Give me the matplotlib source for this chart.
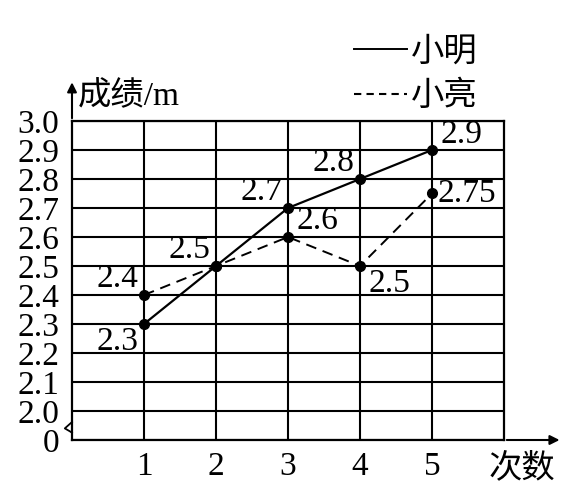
import matplotlib
matplotlib.use('Agg')
import matplotlib.pyplot as plt
from matplotlib.lines import Line2D

plt.rcParams['font.family'] = ['Liberation Serif', 'Noto Sans CJK SC']

# data
times = [1, 2, 3, 4, 5]
ming = [2.3, 2.5, 2.7, 2.8, 2.9]
liang = [2.4, 2.5, 2.6, 2.5, 2.75]
y_ticks = [1.9, 2.0, 2.1, 2.2, 2.3, 2.4, 2.5, 2.6, 2.7, 2.8, 2.9, 3.0]
y_tick_labels = ['0', '2.0', '2.1', '2.2', '2.3', '2.4', '2.5', '2.6', '2.7', '2.8', '2.9', '3.0']
x_tick_labels = ['1', '2', '3', '4', '5']

# label placement (offset in points, ha, va)
ming_lbl = [((-4, -2), 'right', 'top'), ((-4, 1), 'right', 'bottom'), ((-4, 1), 'right', 'bottom'),
            ((-4, 1), 'right', 'bottom'), ((6, 0), 'left', 'bottom')]
liang_lbl = [((-4, 1), 'right', 'bottom'), None, ((6, 1), 'left', 'bottom'),
             ((6, -2), 'left', 'top'), ((4, 0), 'left', 'center')]

fz = 24
W, H = 577, 488
fig = plt.figure(figsize=(W / 100, H / 100), dpi=100)
ax = fig.add_axes([72 / W, (H - 440) / H, 432 / W, 319 / H])

ax.plot(times, ming, color='black', linestyle='-', linewidth=1.6,
        marker='o', markersize=7, zorder=3)
ax.plot(times, liang, color='black', linestyle=(0, (5.5, 3.5)), linewidth=1.4,
        marker='o', markersize=7, zorder=3)

for i in range(len(times)):
    (dx, dy), ha, va = ming_lbl[i]
    ax.annotate(f'{ming[i]:g}', (times[i], ming[i]), xytext=(dx, dy), textcoords='offset points',
                ha=ha, va=va, fontsize=fz)
    if liang_lbl[i] is not None:
        (dx, dy), ha, va = liang_lbl[i]
        ax.annotate(f'{liang[i]:g}', (times[i], liang[i]), xytext=(dx, dy), textcoords='offset points',
                    ha=ha, va=va, fontsize=fz)

ax.set_xlim(0, 6)
ax.set_ylim(1.9, 3.0)
ax.set_xticks(times)
ax.set_xticklabels(x_tick_labels)
ax.set_yticks(y_ticks)
ax.set_yticklabels(y_tick_labels)
ax.tick_params(axis='both', length=0, labelsize=fz)
ax.tick_params(axis='y', pad=9)
ax.tick_params(axis='x', pad=8)
ax.grid(True, color='black', linewidth=1.5)
for s in ax.spines.values():
    s.set_linewidth(1.6)

# axis arrows
ax.annotate('', xy=(0, 1.13), xytext=(0, 1.0), xycoords='axes fraction',
            arrowprops=dict(arrowstyle='-|>', color='black', lw=1.5, mutation_scale=14))
ax.annotate('', xy=(1.135, 0), xytext=(1.0, 0), xycoords='axes fraction',
            arrowprops=dict(arrowstyle='-|>', color='black', lw=1.5, mutation_scale=14))

# axis break zigzag
ax.plot([0, -0.1, -0.03, 0], [1.962, 1.94, 1.93, 1.925], color='black', lw=1.3, clip_on=False)

ax.annotate('成绩/m', (0, 1), xycoords='axes fraction', xytext=(4, 6), textcoords='offset points',
            ha='left', va='bottom', fontsize=fz)
ax.annotate('次数', (1, 0), xycoords='axes fraction', xytext=(-11, -10), textcoords='offset points',
            ha='left', va='top', fontsize=fz)

handles = [Line2D([], [], color='black', lw=1.4),
           Line2D([], [], color='black', lw=1.5, linestyle=(0, (3.5, 2.5)))]
fig.legend(handles, ['小明', '小亮'], loc='upper left', bbox_to_anchor=(354 / W, 1 - 37 / H),
           frameon=False, fontsize=fz, handlelength=1.6, handletextpad=0.1,
           labelspacing=0.4, borderpad=0, borderaxespad=0)

fig.savefig('out.png', dpi=100)
